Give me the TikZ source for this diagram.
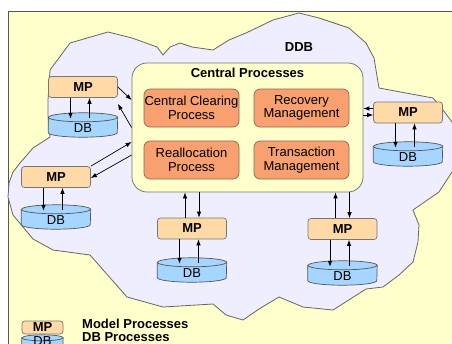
\documentclass[tikz,border=0pt]{standalone}
\usepackage{fontspec}
\setmainfont{Liberation Sans}
\usetikzlibrary{arrows.meta}
\pgfdeclarelayer{back}
\pgfdeclarelayer{mid}
\pgfsetlayers{back,mid,main}
\definecolor{bgy}{HTML}{FFFFCC}
\definecolor{framec}{HTML}{555555}
\definecolor{cloudf}{HTML}{EEEEFF}
\definecolor{cloudl}{HTML}{666666}
\definecolor{ofill}{HTML}{F8A070}
\definecolor{oline}{HTML}{8A6A55}
\definecolor{mpfill}{HTML}{FFD9A6}
\definecolor{mpline}{HTML}{777777}
\definecolor{dbfill}{HTML}{A6D5FF}
\definecolor{dbline}{HTML}{555555}
\definecolor{cline}{HTML}{777777}
\newcommand\fs{\fontsize{13}{13.5}\selectfont}
\newcommand\dbcyl[3]{%
  \begin{pgfonlayer}{mid}
  \filldraw[fill=dbfill,draw=dbline,line width=0.7pt] ([yshift=-#3]#1.north west) -- ([yshift=#3]#1.south west)
    arc[start angle=180,end angle=360,x radius=#2,y radius=#3] -- ([yshift=-#3]#1.north east)
    arc[start angle=0,end angle=180,x radius=#2,y radius=#3] -- cycle;
  \draw[draw=dbline,line width=0.7pt] ([yshift=-#3]#1.north west) arc[start angle=180,end angle=360,x radius=#2,y radius=#3];
  \end{pgfonlayer}}
\tikzset{
  mpbox/.style={draw=mpline, fill=mpfill, line width=0.7pt, rounded corners=3pt, minimum width=69pt, minimum height=21pt, inner sep=0pt, font=\fs\bfseries},
  dbbox/.style={minimum width=69pt, inner sep=0pt, font=\fs, text height=19pt, text depth=5pt},
  obox/.style={draw=oline, fill=ofill, line width=0.7pt, rounded corners=6pt, minimum width=95pt, minimum height=38pt, inner sep=0pt, align=center, font=\fs},
  cbox/.style={draw=cline, fill=bgy, line width=0.8pt, rounded corners=15pt, minimum width=231pt, minimum height=129pt, inner sep=0pt},
  arr/.style={-{Latex[length=6pt,width=4.5pt]}, line width=0.7pt, black},
  lbl/.style={font=\fs\bfseries, inner sep=0pt}
}
\begin{document}
\begin{tikzpicture}[x=1pt,y=-1pt]
\useasboundingbox (0,0) rectangle (452,343);
\begin{pgfonlayer}{back}
  \fill[white] (0,0) rectangle (452,343);
  \filldraw[fill=bgy, draw=framec, line width=1pt] (8,11) rectangle (470,360);
  \filldraw[fill=cloudf, draw=cloudl, line width=0.8pt]
    (50,70) -- (70,43) -- (108,32) -- (132,38) -- (157,47) -- (163,55) -- (170,47) -- (180,43)
    -- (192,47) -- (213,50) -- (229,40) -- (246,33) -- (273,20) -- (299,13) -- (319,18)
    -- (349,28) -- (366,43) -- (374,58) -- (379,88) -- (406,93) -- (433,98) -- (443,110)
    -- (452,122) -- (460,140) -- (460,165) -- (452,172) -- (439,192) -- (413,210) -- (419,225)
    -- (418,242) -- (413,262) -- (399,275) -- (383,287) -- (366,289) -- (333,310) -- (303,307)
    -- (279,297) -- (259,309) -- (243,320) -- (226,315) -- (213,304) -- (163,307) -- (127,297)
    -- (90,255) -- (53,250) -- (33,239) -- (13,215) -- (8,197) -- (9,183) -- (13,172)
    -- (20,163) -- (33,148) -- (50,137) -- (48,115) -- (48,100) -- cycle;
\end{pgfonlayer}

\node[lbl] (ddb) at (299,47) {DDB};

\node[cbox] (cp) at (247.5,127.5) {};
\node[lbl] (cpt) at (247.5,73) {Central Processes};
\node[obox] (ccp) at (191.5,108) {Central Clearing\\Process};
\node[obox] (rm) at (301.5,108) {Recovery\\Management};
\node[obox] (rp) at (191.5,160) {Reallocation\\Process};
\node[obox] (tm) at (301.5,160) {Transaction\\Management};

\node[mpbox] (mp1) at (83,87) {MP};
\node[mpbox] (mp2) at (56,177) {MP};
\node[mpbox] (mp3) at (192,228.5) {MP};
\node[mpbox] (mp4) at (342.5,229) {MP};
\node[mpbox] (mp5) at (408,112.5) {MP};

\node[dbbox] (db1) at (83,125) {DB};
\node[dbbox] (db2) at (56,217) {DB};
\node[dbbox] (db3) at (192,270) {DB};
\node[dbbox] (db4) at (342.5,273) {DB};
\node[dbbox] (db5) at (408,154) {DB};
\foreach \n in {db1,db2,db3,db4,db5}{\dbcyl{\n}{34.5pt}{4.5pt}}

% MP <-> DB
\foreach \m/\d in {mp1/db1,mp2/db2,mp3/db3,mp4/db4,mp5/db5}{
  \draw[arr] ([xshift=-12.5pt]\m.south) -- ([xshift=-12.5pt,yshift=-6pt]\d.north);
  \draw[arr] ([xshift=6.5pt,yshift=-5pt]\d.north) -- ([xshift=6.5pt]\m.south);
}
% central <-> bottom MPs
\foreach \m in {mp3,mp4}{
  \draw[arr] ([xshift=-7pt]\m.north) -- ([xshift=-7pt]\m.north |- cp.south);
  \draw[arr] ([xshift=7pt]\m.north |- cp.south) -- ([xshift=7pt]\m.north);
}
% central <-> right MP
\draw[arr] ([yshift=4pt]mp5.west) -- ([yshift=4pt]mp5.west -| cp.east);
\draw[arr] ([yshift=-2.5pt]mp5.west -| cp.east) -- ([yshift=-2.5pt]mp5.west);
% central <-> left MPs
\draw[arr] (mp1.east) -- ([yshift=27.5pt]cp.west);
\draw[arr] (cp.west) -- ([yshift=-6pt]mp1.south east);
\draw[arr] (mp2.north east) -- ([yshift=-14.5pt]cp.west);
\draw[arr] ([yshift=-27.5pt]cp.west) -- ([yshift=-1pt]mp2.east);

% legend
\node[mpbox, minimum width=41pt, minimum height=13pt] (lmp) at (42.5,327.5) {MP};
\node[dbbox, minimum width=41pt, text height=10pt, text depth=4pt] (ldb) at (42.5,342) {DB};
\dbcyl{ldb}{20.5pt}{3pt}
\node[lbl, anchor=west] (lt1) at (82,324) {Model Processes};
\node[lbl, anchor=west] (lt2) at (82,337) {DB Processes};
\end{tikzpicture}
\end{document}
